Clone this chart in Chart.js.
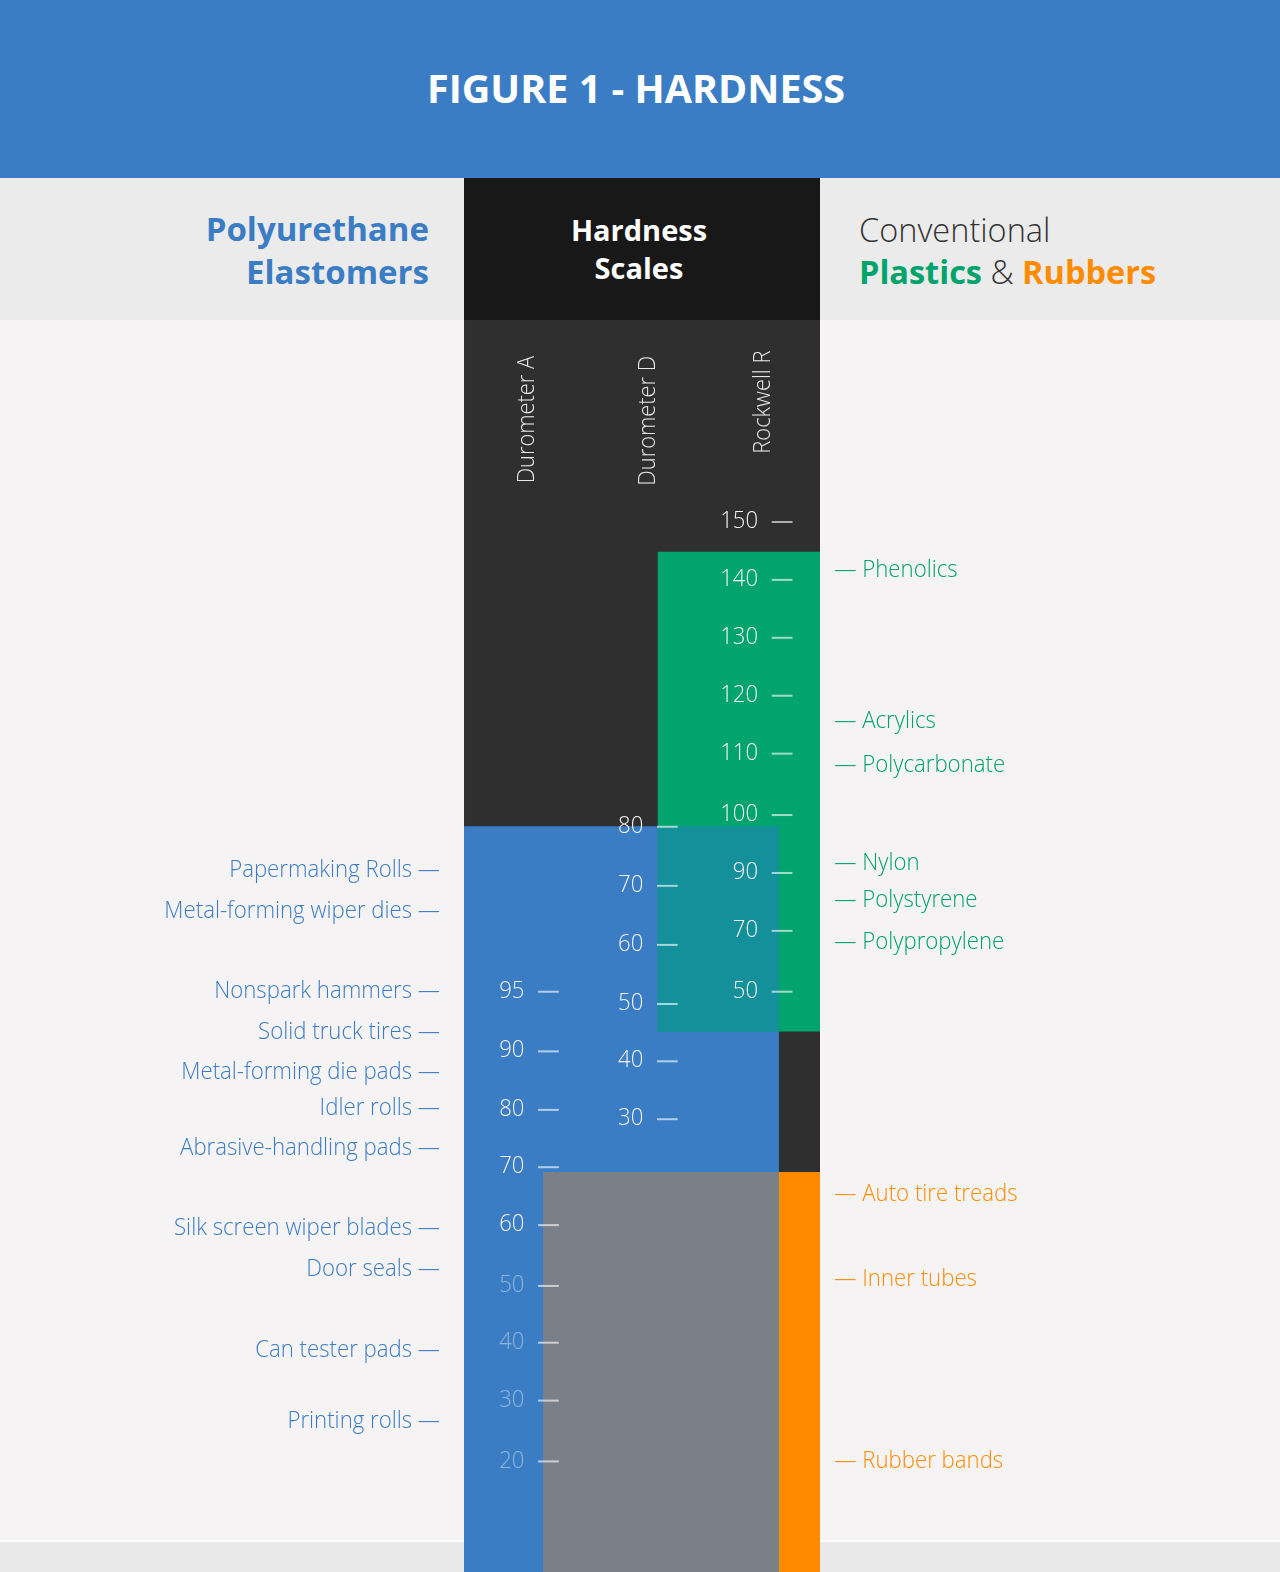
<!DOCTYPE html>
<html>
<head>
<meta charset="utf-8">
<title>Figure 1 - Hardness</title>
<script src="https://cdn.jsdelivr.net/npm/chart.js@4.4.1/dist/chart.umd.min.js"></script>
<style>
  html, body { margin: 0; padding: 0; }
  body { width: 1280px; height: 1572px; position: relative; overflow: hidden;
         background: #f5f3f4; font-family: "Open Sans", sans-serif; }
  #banner { position: absolute; left: 0; top: 0; width: 1280px; height: 178px; background: #3b7dc4; }
  #banner h1 { position: absolute; left: 0; right: 8px; top: 60px; margin: 0; text-align: center;
               color: #fff; font-size: 39.5px; font-weight: 700; line-height: 56px; }
  #heads { position: absolute; left: 0; top: 178px; width: 1280px; height: 142px; background: #ebebeb; }
  #pu { position: absolute; right: 851px; top: 30px; text-align: right; color: #3b7dc4;
        font-size: 33px; font-weight: 700; line-height: 42.6px; }
  #hs { position: absolute; left: 464px; top: 0; width: 356px; height: 142px; background: #181818;
        color: #fff; text-align: center; font-size: 29px; font-weight: 700; line-height: 38.3px;
        box-sizing: border-box; padding-top: 33px; padding-right: 6px; }
  #conv { position: absolute; left: 859px; top: 31px; color: #333; font-size: 32.5px; font-weight: 300;
          line-height: 41.5px; white-space: nowrap; }
  #conv b { font-weight: 700; }
  #conv .g { color: #00a36c; }
  #conv .o { color: #ff8c00; }
  #footer { position: absolute; left: 0; top: 1540px; width: 1280px; height: 32px;
            background: #e9e9e9; border-top: 2px solid #fff; box-sizing: border-box; }
  #wrap { position: absolute; left: 0; top: 320px; width: 1280px; height: 1252px; }
</style>
</head>
<body>
<div id="banner"><h1>FIGURE 1 - HARDNESS</h1></div>
<div id="heads">
  <div id="pu">Polyurethane<br>Elastomers</div>
  <div id="hs">Hardness<br>Scales</div>
  <div id="conv">Conventional<br><b class="g">Plastics</b> &amp; <b class="o">Rubbers</b></div>
</div>
<div id="footer"></div>
<div id="wrap"><canvas id="hardness"></canvas></div>
<script>
// y axis = position on the shared comparison axis (one step per tick row, 0 = Rockwell R 150)
const scaleTitles = ["Durometer A", "Durometer D", "Rockwell R"];

const durometerA = [95, 90, 80, 70, 60, 50, 40, 30, 20];
const durometerAPos = [8.03, 9.05, 10.05, 11.03, 12.02, 13.06, 14.03, 15.02, 16.06];
const durometerD = [80, 70, 60, 50, 40, 30];
const durometerDPos = [5.21, 6.22, 7.23, 8.24, 9.22, 10.21];
const rockwellR = [150, 140, 130, 120, 110, 100, 90, 70, 50];
const rockwellRPos = [0, 0.99, 1.98, 2.97, 3.96, 5.01, 6.0, 6.99, 8.03];

const urethaneUses = ["Papermaking Rolls", "Metal-forming wiper dies", "Nonspark hammers",
  "Solid truck tires", "Metal-forming die pads", "Idler rolls", "Abrasive-handling pads",
  "Silk screen wiper blades", "Door seals", "Can tester pads", "Printing rolls"];
const urethanePos = [5.93, 6.63, 7.99, 8.70, 9.37, 9.99, 10.68, 12.05, 12.74, 14.12, 15.35];

const plastics = ["Phenolics", "Acrylics", "Polycarbonate", "Nylon", "Polystyrene", "Polypropylene"];
const plasticPos = [0.79, 3.38, 4.12, 5.81, 6.43, 7.15];

const rubbers = ["Auto tire treads", "Inner tubes", "Rubber bands"];
const rubberPos = [11.46, 12.92, 16.02];

// hardness ranges [hardest, softest] on the same axis
const urethaneRange = [5.2, 19];
const plasticRange = [0.51, 8.71];
const rubberRange = [11.11, 19];

// horizontal layout, in column units (panel = 0..3)
const cols = { panel: [0, 3], stripA: 0.666, colD: 1.63, colR: 2.654 };
const tickX = [0.624, 1.626, 2.593];
const titleX = [0.59, 1.612, 2.582];
const titleEnd = [-2.84, -2.84, -2.93];

const C = {
  panel: "#2f2f2f", blue: "#3b7dc4", green: "#00a46c", teal: "#14909a",
  orange: "#ff8a00", gray: "#7a8088"
};

function band(label, xr, yr, color, order) {
  return {
    label: label,
    data: [{ x: xr[0], y: yr[0] }, { x: xr[1], y: yr[0] }],
    fill: { value: yr[1] },
    backgroundColor: color,
    borderWidth: 0,
    pointRadius: 0,
    tension: 0,
    order: order
  };
}

const overlap = [Math.max(urethaneRange[0], plasticRange[0]), Math.min(urethaneRange[1], plasticRange[1])];

const datasets = [
  band("panel", cols.panel, [-5, 19], C.panel, 9),
  band("Polyurethane", [cols.panel[0], cols.colR], urethaneRange, C.blue, 8),
  band("Plastics", [cols.colD, cols.panel[1]], plasticRange, C.green, 7),
  band("overlap", [cols.colD, cols.colR], overlap, C.teal, 6),
  band("Rubbers", [cols.colR, cols.panel[1]], rubberRange, C.orange, 5),
  band("rubber zone", [cols.stripA, cols.colR], rubberRange, C.gray, 4)
];

function txt(ctx, s, px, py, align, color, size, squeeze) {
  ctx.save();
  ctx.translate(px, py);
  ctx.scale(squeeze, 1);
  ctx.font = "300 " + size + "px 'Open Sans'";
  ctx.fillStyle = color;
  ctx.textAlign = align;
  ctx.textBaseline = "alphabetic";
  ctx.fillText(s, 0, size * 0.357);
  ctx.restore();
}

const labelsPlugin = {
  id: "hardnessLabels",
  afterDatasetsDraw(chart) {
    const { ctx, scales: { x, y } } = chart;

    // rotated scale titles
    scaleTitles.forEach((t, i) => {
      ctx.save();
      ctx.translate(x.getPixelForValue(titleX[i]), y.getPixelForValue(titleEnd[i]));
      ctx.rotate(-Math.PI / 2);
      ctx.scale(0.91, 1);
      ctx.font = "300 24px 'Open Sans'";
      ctx.fillStyle = "#e8e8e8";
      ctx.textAlign = "right";
      ctx.textBaseline = "alphabetic";
      ctx.fillText(t, 0, 0);
      ctx.restore();
    });

    // scale ticks
    const scalesData = [[durometerA, durometerAPos], [durometerD, durometerDPos], [rockwellR, rockwellRPos]];
    scalesData.forEach(([vals, pos], i) => {
      vals.forEach((v, j) => {
        const py = y.getPixelForValue(pos[j]);
        const x0 = x.getPixelForValue(tickX[i]);
        const x1 = x.getPixelForValue(tickX[i] + 0.175);
        ctx.save();
        ctx.strokeStyle = "rgba(255,255,255,0.62)";
        ctx.lineWidth = 2;
        ctx.beginPath();
        ctx.moveTo(x0, py);
        ctx.lineTo(x1, py);
        ctx.stroke();
        ctx.restore();
        const faded = i === 0 && v <= 50;
        const lx = x.getPixelForValue(tickX[i] - 0.115);
        txt(ctx, String(v), lx, py - 2.5, "right", faded ? "rgba(255,255,255,0.42)" : "#f4f4f4", 24, 0.92);
      });
    });

    // applications
    const leftX = x.getPixelForValue(-0.202);
    urethaneUses.forEach((s, i) => {
      txt(ctx, s + " \u2014", leftX, y.getPixelForValue(urethanePos[i]), "right", C.blue, 24, 0.925);
    });
    const rightX = x.getPixelForValue(3.12);
    plastics.forEach((s, i) => {
      txt(ctx, "\u2014 " + s, rightX, y.getPixelForValue(plasticPos[i]), "left", "#00a36c", 24, 0.925);
    });
    rubbers.forEach((s, i) => {
      txt(ctx, "\u2014 " + s, rightX, y.getPixelForValue(rubberPos[i]), "left", "#ff8c00", 24, 0.925);
    });
  }
};

new Chart(document.getElementById("hardness"), {
  type: "line",
  data: { datasets: datasets },
  options: {
    responsive: true,
    maintainAspectRatio: false,
    animation: false,
    layout: { padding: 0 },
    plugins: { legend: { display: false }, tooltip: { enabled: false } },
    scales: {
      x: { type: "linear", min: -3.91, max: 6.876, display: false },
      y: { type: "linear", reverse: true, min: -3.453, max: 17.95, display: false }
    }
  },
  plugins: [labelsPlugin]
});
</script>
</body>
</html>
